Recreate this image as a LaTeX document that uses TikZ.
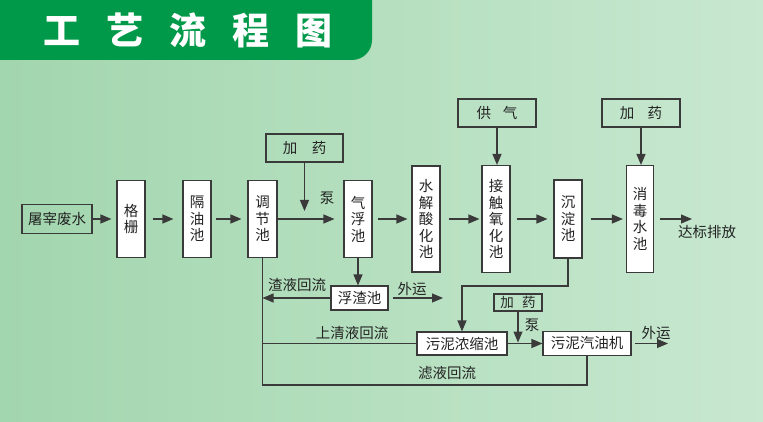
\documentclass[tikz,border=0pt]{standalone}
\usepackage{fontspec}
\newfontfamily\cjk{Noto Sans CJK SC}
\usetikzlibrary{arrows.meta}
\definecolor{lc}{RGB}{58,58,58}
\definecolor{tc}{RGB}{35,35,35}
\definecolor{tabgreen}{RGB}{0,153,74}
\definecolor{bgl}{RGB}{162,214,174}
\definecolor{bgr}{RGB}{200,232,208}
\begin{document}
\begin{tikzpicture}[x=1pt,y=-1pt,
  box/.style={draw=lc, line width=1.1pt, fill=white, inner sep=0pt, align=center, text=tc,
    font=\cjk\fontsize{14.5}{16.5}\selectfont},
  vbox/.style={box, minimum width=28pt},
  obox/.style={box, fill=none},
  lbl/.style={text=tc, inner sep=0pt, font=\cjk\fontsize{14.5}{16.5}\selectfont},
  arr/.style={draw=lc, line width=1.1pt, -{Triangle[length=11pt,width=9pt]}},
  ln/.style={draw=lc, line width=1.1pt}]
\useasboundingbox (0,0) rectangle (763,422);
\shade[left color=bgl, right color=bgr] (0,0) rectangle (763,422);
\fill[tabgreen, rounded corners=20pt] (-30,-30) rectangle (372,60);
\node[text=white, inner sep=0pt, font=\cjk\bfseries\fontsize{37}{40}\selectfont] (title) at (188,30)
  {工\hspace{26pt}艺\hspace{26pt}流\hspace{26pt}程\hspace{26pt}图};

% main row
\node[obox, minimum width=70pt, minimum height=29pt] (src) at (57,219) {屠宰废水};
\node[vbox, minimum height=77pt] (gs) at (131,219) {格\\栅};
\node[vbox, minimum height=77pt] (gy) at (197,219) {隔\\油\\池};
\node[vbox, minimum width=29pt, minimum height=77pt] (tj) at (262.5,219) {调\\节\\池};
\node[vbox, minimum height=77pt] (qf) at (358,219) {气\\浮\\池};
\node[vbox, minimum height=106pt] (sj) at (426,219) {水\\解\\酸\\化\\池};
\node[vbox, minimum height=107pt] (jc) at (496,219) {接\\触\\氧\\化\\池};
\node[vbox, minimum height=78pt] (cd) at (568,219) {沉\\淀\\池};
\node[vbox, minimum width=27pt, minimum height=107pt] (xd) at (640,219) {消\\毒\\水\\池};

% top supply boxes
\node[obox, minimum width=77pt, minimum height=28pt] (jy1) at (304.5,148) {加\hspace{1em}药};
\node[obox, minimum width=78pt, minimum height=28pt] (gq) at (497,113) {供\hspace{0.8em}气};
\node[obox, minimum width=78pt, minimum height=28pt] (jy2) at (641,113) {加\hspace{0.9em}药};

% bottom boxes
\node[box, minimum width=57pt, minimum height=24pt] (fz) at (359.5,298) {浮渣池};
\node[box, minimum width=90pt, minimum height=23pt] (wn) at (462,343.5) {污泥浓缩池};
\node[box, minimum width=88pt, minimum height=24pt] (wq) at (587,343.5) {污泥汽油机};
\node[obox, minimum width=48pt, minimum height=17pt, font=\cjk\fontsize{13.5}{15}\selectfont] (jy3) at (518,302.5) {加\hspace{0.6em}药};

% coordinates
\coordinate (out) at (692,219);
\coordinate (lb) at (tj.south |- 0,385);
\coordinate (fzout) at (443,298);
\coordinate (c2) at (568,286);
\coordinate (wqout) at (668,343.5);

% main arrows
\draw[arr, shorten >=5pt] (src) -- (gs);
\draw[arr, shorten <=7pt, shorten >=9pt] (gs) -- (gy);
\draw[arr, shorten <=4pt, shorten >=6pt] (gy) -- (tj);
\draw[arr, shorten >=9pt] (tj) -- (qf);
\draw[arr, shorten <=5pt, shorten >=4pt] (qf) -- (sj);
\draw[arr, shorten <=8pt, shorten >=2pt] (sj) -- (jc);
\draw[arr, shorten <=6pt, shorten >=6pt] (jc) -- (cd);
\draw[arr, shorten <=8pt, shorten >=3pt] (cd) -- (xd);
\draw[arr, shorten <=6pt] (xd.east) -- (out);

% supply arrows
\draw[arr, shorten >=8pt] (jy1.south) -- (jy1.south |- tj.center);
\draw[arr] (gq.south) -- (gq.south |- jc.north);
\draw[arr] (jy2.south) -- (jy2.south |- xd.north);

% bottom connections
\draw[arr] (qf.south) -- (qf.south |- fz.north);
\draw[ln] (tj.south) -- (lb) -| (wq.south);
\draw[arr] (fz.west) -- (fz.west -| tj.south);
\draw[arr, shorten <=4pt] (fz.east) -- (fzout);
\draw[ln] (wn.west) -- (wn.west -| tj.south);
\draw[arr] (cd.south) -- (c2) -| (wn.north);
\draw[arr, shorten >=1pt] (jy3.south) -- (jy3.south |- wn.east);
\draw[arr] (wn.east) -- (wq.west);
\draw[arr, shorten <=3pt] (wq.east) -- (wqout);

% labels
\node[lbl] (pump1) at (327,198) {泵};
\node[lbl] (zyhl) at (297,284.5) {渣液回流};
\node[lbl] (wy1) at (412,289) {外运};
\node[lbl] (sqhl) at (352,333) {上清液回流};
\node[lbl] (lyhl) at (447,373) {滤液回流};
\node[lbl] (pump2) at (532,325) {泵};
\node[lbl] (wy2) at (656,333) {外运};
\node[lbl] (dbpf) at (707,232) {达标排放};
\end{tikzpicture}
\end{document}
